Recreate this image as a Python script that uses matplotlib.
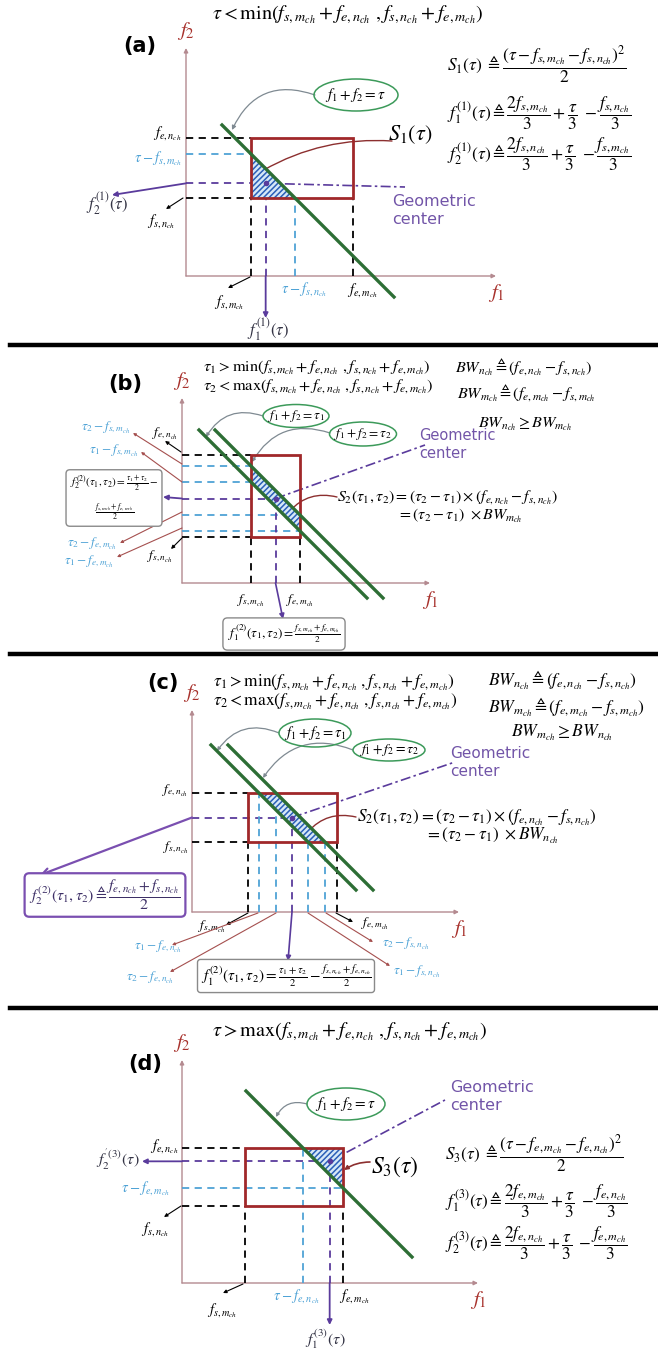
import matplotlib.pyplot as plt
from matplotlib.patches import Ellipse, Polygon, Rectangle

plt.rcParams['mathtext.fontset'] = 'stix'
plt.rcParams['font.family'] = ['DejaVu Sans']
plt.rcParams['hatch.linewidth'] = 1.1

AX_C = '#b48a90'
LAB_C = '#a8322d'
RECT_C = '#a0282a'
GREEN = '#2d6e35'
CYAN = '#4fa3d6'
PURPLE = '#5a3b9c'
GC_C = '#7255a8'
GRAY = '#7f8a92'
BROWN = '#a5504f'
HATCH_C = '#2a5fb8'

# band edges per panel (a, b, c, d), in axis units (1 unit = 1 px)
origins = [(186, 276), (182, 583), (192, 912), (182, 1283)]
axis_len = [(310, 228), (248, 185), (267, 202), (296, 223)]
f_s_m = [65, 69, 56, 63]
f_e_m = [167, 118, 145, 161]
f_s_n = [78, 46, 70, 77]
f_e_n = [138, 128, 119, 135]
tau_a = 187
tau_b = [170, 186]
tau_c = [186, 203]
tau_d = 256
line_f2 = [(151, -21), (153, -15), (167, 22), (192, 26)]

fig = plt.figure(figsize=(6.58, 13.49), dpi=100)
ax = fig.add_axes([0, 0, 1, 1])
ax.set_xlim(0, 658)
ax.set_ylim(1349, 0)
ax.axis('off')


def px(p, f1, f2):
    ox, oy = origins[p]
    return ox + f1, oy - f2


def seg(p, a, b, color, ls='-', lw=1.3, z=3):
    (x0, y0), (x1, y1) = px(p, *a), px(p, *b)
    ax.plot([x0, x1], [y0, y1], color=color, ls=ls, lw=lw, zorder=z)


def arrow(a, b, color, lw=1.0, rad=0.0, ms=7, style='-|>'):
    ax.annotate('', xy=b, xytext=a,
                arrowprops=dict(arrowstyle=style, color=color, lw=lw, mutation_scale=ms,
                                shrinkA=0, shrinkB=0, connectionstyle=f'arc3,rad={rad}'))


def clip(poly, tau, below):
    out = []
    for i in range(len(poly)):
        a, b = poly[i], poly[(i + 1) % len(poly)]
        da, db = a[0] + a[1] - tau, b[0] + b[1] - tau
        ina = da <= 0 if below else da >= 0
        inb = db <= 0 if below else db >= 0
        if ina:
            out.append(a)
        if ina != inb:
            t = da / (da - db)
            out.append((a[0] + t * (b[0] - a[0]), a[1] + t * (b[1] - a[1])))
    return out


def base(p, taus, keep):
    ox, oy = origins[p]
    lx, ly = axis_len[p]
    arrow((ox, oy), (ox, oy - ly), AX_C, lw=1.0, ms=6)
    arrow((ox, oy), (ox + lx, oy), AX_C, lw=1.0, ms=6)
    ax.text(ox, oy - ly - 6, r'$f_2$', color=LAB_C, fontsize=15, ha='center', va='bottom')
    ax.text(ox + lx, oy + 6, r'$f_1$', color=LAB_C, fontsize=15, ha='center', va='top')
    x0, y0 = px(p, f_s_m[p], f_e_n[p])
    ax.add_patch(Rectangle((x0, y0), f_e_m[p] - f_s_m[p], f_e_n[p] - f_s_n[p], fill=False,
                           edgecolor=RECT_C, lw=2.0, zorder=6))
    poly = [(f_s_m[p], f_s_n[p]), (f_e_m[p], f_s_n[p]), (f_e_m[p], f_e_n[p]), (f_s_m[p], f_e_n[p])]
    for t, b in zip(taus, keep):
        poly = clip(poly, t, b)
    ax.add_patch(Polygon([px(p, *v) for v in poly], facecolor='#d6e8f7', edgecolor=HATCH_C,
                         hatch='//////', lw=0, zorder=4))
    top, bot = line_f2[p]
    for t in taus:
        seg(p, (t - top, top), (t - bot, bot), GREEN, lw=2.4, z=7)


def oval(c, w, h, txt, fs=9):
    ax.add_patch(Ellipse(c, w, h, fill=False, edgecolor='#3c9a5a', lw=1.1, zorder=5))
    ax.text(c[0], c[1], txt, fontsize=fs, ha='center', va='center', zorder=6)


def gcenter(xy, fs=10.5):
    ax.text(xy[0], xy[1], 'Geometric\ncenter', color=GC_C, fontsize=fs, ha='left', va='center',
            linespacing=1.25)


DASH = (0, (4, 3))
DDOT = (0, (6, 2, 1.5, 2))
BOXK = dict(boxstyle='round,pad=0.35', fc='white', ec='#8a8a8a', lw=1.0)
LF = 10.5  # small axis labels

# ---------------- (a) ----------------
p = 0
fsm, fem, fsn, fen, t = f_s_m[p], f_e_m[p], f_s_n[p], f_e_n[p], tau_a
base(p, [t], [True])
c1, c2 = (2 * fsm + t - fsn) / 3, (2 * fsn + t - fsm) / 3
seg(p, (0, fen), (fsm, fen), 'k', DASH)
seg(p, (0, fsn), (fsm, fsn), 'k', DASH)
seg(p, (0, t - fsm), (fsm, t - fsm), CYAN, DASH)
seg(p, (0, c2), (c1, c2), PURPLE, DASH)
seg(p, (fsm, 0), (fsm, fsn), 'k', DASH)
seg(p, (fem, 0), (fem, fsn), 'k', DASH)
seg(p, (t - fsn, 0), (t - fsn, fsn), CYAN, DASH)
seg(p, (c1, 0), (c1, c2), PURPLE, DASH)
cx, cy = px(p, c1, c2)
ax.plot(cx, cy, 'o', color=PURPLE, ms=3, zorder=8)
ax.plot([cx, 405], [cy, 187], color=PURPLE, ls=DDOT, lw=1.2, zorder=3)
arrow(px(p, c1, 0), (cx, 318), PURPLE, lw=1.3)
arrow(px(p, 0, c2), (112, 195), PURPLE, lw=1.3)
ax.text(212, 15, r'$\tau < \min(f_{s,m_{ch}} + f_{e,n_{ch}}\ ,f_{s,n_{ch}} + f_{e,m_{ch}})$',
        fontsize=14.5, ha='left', va='center')
ax.text(140, 46, '(a)', fontsize=15, fontweight='bold', ha='center', va='center')
ax.text(182, 133, r'$f_{e,n_{ch}}$', fontsize=LF, ha='right', va='center')
ax.text(182, 158, r'$\tau - f_{s,m_{ch}}$', fontsize=LF, ha='right', va='center', color=CYAN)
ax.text(161, 221, r'$f_{s,n_{ch}}$', fontsize=LF, ha='center', va='center')
arrow((183, 198), (166, 209), 'k', lw=0.8, ms=5)
ax.text(229, 302, r'$f_{s,m_{ch}}$', fontsize=LF, ha='center', va='center')
arrow((250, 277), (228, 288), 'k', lw=0.8, ms=5)
ax.text(281, 289, r'$\tau - f_{s,n_{ch}}$', fontsize=LF, ha='left', va='center', color=CYAN)
ax.text(362, 290, r'$f_{e,m_{ch}}$', fontsize=LF, ha='center', va='center')
ax.text(107, 204, r'$f_2^{(1)}(\tau)$', fontsize=12, ha='center', va='center', color='#333344')
ax.text(268, 330, r'$f_1^{(1)}(\tau)$', fontsize=12, ha='center', va='center', color='#333344')
oval((356, 95), 84, 32, r'$f_1 + f_2{=}\tau$', fs=11)
arrow((315, 95), (232, 130), GRAY, lw=0.9, rad=0.45, ms=6)
ax.text(388, 135, r'$S_1(\tau)$', fontsize=16, ha='left', va='center')
arrow((392, 141), (262, 171), '#8c2f2f', lw=1.0, rad=0.15, ms=6)
gcenter((392, 211), fs=11.5)
ax.text(447, 64, r'$S_1(\tau)\ \triangleq \dfrac{(\tau - f_{s,m_{ch}} - f_{s,n_{ch}})^2}{2}$',
        fontsize=12.5, ha='left', va='center')
ax.text(447, 113, r'$f_1^{(1)}(\tau) \triangleq \dfrac{2f_{s,m_{ch}}}{3} + \dfrac{\tau}{3}\ - \dfrac{f_{s,n_{ch}}}{3}$',
        fontsize=12.5, ha='left', va='center')
ax.text(447, 154, r'$f_2^{(1)}(\tau) \triangleq \dfrac{2f_{s,n_{ch}}}{3} + \dfrac{\tau}{3}\ - \dfrac{f_{s,m_{ch}}}{3}$',
        fontsize=12.5, ha='left', va='center')

for ysep in [345, 654, 1008]:
    ax.plot([10, 658], [ysep, ysep], color='k', lw=3.2)

# ---------------- (b) ----------------
p = 1
fsm, fem, fsn, fen = f_s_m[p], f_e_m[p], f_s_n[p], f_e_n[p]
t1, t2 = tau_b
base(p, [t1, t2], [False, True])
c1 = (fsm + fem) / 2
c2 = (t1 + t2) / 2 - c1
seg(p, (0, fen), (fsm, fen), 'k', DASH)
seg(p, (0, fsn), (fsm, fsn), 'k', DASH)
seg(p, (0, t2 - fsm), (fsm, t2 - fsm), CYAN, DASH)
seg(p, (0, t1 - fsm), (fsm, t1 - fsm), CYAN, DASH)
seg(p, (0, t2 - fem), (fem, t2 - fem), CYAN, DASH)
seg(p, (0, t1 - fem), (fem, t1 - fem), CYAN, DASH)
seg(p, (0, c2), (c1, c2), PURPLE, DASH)
seg(p, (fsm, 0), (fsm, fsn), 'k', DASH)
seg(p, (fem, 0), (fem, fsn), 'k', DASH)
seg(p, (c1, 0), (c1, c2), PURPLE, DASH)
cx, cy = px(p, c1, c2)
ax.plot(cx, cy, 'o', color=PURPLE, ms=3, zorder=8)
ax.plot([cx, 425], [cy, 445], color=PURPLE, ls=DDOT, lw=1.2, zorder=3)
arrow(px(p, c1, 0), (283, 619), PURPLE, lw=1.2)
arrow(px(p, 0, c2), (163, 497), PURPLE, lw=1.3)
ax.text(203, 367, r'$\tau_1 > \min(f_{s,m_{ch}} + f_{e,n_{ch}}\ ,f_{s,n_{ch}} + f_{e,m_{ch}})$',
        fontsize=11.8, ha='left', va='center')
ax.text(203, 386, r'$\tau_2 < \max(f_{s,m_{ch}} + f_{e,n_{ch}}\ ,f_{s,n_{ch}} + f_{e,m_{ch}})$',
        fontsize=11.8, ha='left', va='center')
ax.text(455, 367, r'$BW_{n_{ch}} \triangleq (f_{e,n_{ch}} - f_{s,n_{ch}})$', fontsize=11.6, ha='left', va='center')
ax.text(457, 393, r'$BW_{m_{ch}} \triangleq (f_{e,m_{ch}} - f_{s,m_{ch}}$', fontsize=11.6, ha='left', va='center')
ax.text(478, 424, r'$BW_{n_{ch}} \geq BW_{m_{ch}}$', fontsize=11.6, ha='left', va='center')
ax.text(125, 384, '(b)', fontsize=15, fontweight='bold', ha='center', va='center')
for lab, yy, a, b in [(r'$\tau_2 - f_{s,m_{ch}}$', 427, (182, 464), (133, 433)),
                      (r'$\tau_1 - f_{s,m_{ch}}$', 450, (182, 482), (141, 452)),
                      (r'$\tau_2 - f_{e,m_{ch}}$', 543, (182, 512), (120, 543)),
                      (r'$\tau_1 - f_{e,m_{ch}}$', 561, (182, 528), (117, 557))]:
    ax.text(b[0] - 3, yy, lab, fontsize=9.5, ha='right', va='center', color=CYAN)
    arrow(a, b, BROWN, lw=0.8, ms=4)
ax.text(165, 433, r'$f_{e,n_{ch}}$', fontsize=9.5, ha='center', va='center')
arrow((181, 452), (165, 441), 'k', lw=0.8, ms=5)
ax.text(160, 556, r'$f_{s,n_{ch}}$', fontsize=9.5, ha='center', va='center')
arrow((182, 538), (171, 549), 'k', lw=0.8, ms=5)
ax.text(251, 600, r'$f_{s,m_{ch}}$', fontsize=9.5, ha='center', va='center')
ax.text(300, 600, r'$f_{e,m_{ch}}$', fontsize=9.5, ha='center', va='center')
ax.text(114, 498, r'$f_2^{(2)}(\tau_1,\tau_2) = \frac{\tau_1+\tau_2}{2}-$' + '\n' +
        r'$\frac{f_{s,m_{ch}}+f_{e,m_{ch}}}{2}$', fontsize=8, ha='center', va='center',
        bbox=BOXK, linespacing=1.6)
ax.text(284, 634, r'$f_1^{(2)}(\tau_1,\tau_2) = \frac{f_{s,m_{ch}}+f_{e,m_{ch}}}{2}$', fontsize=9.5,
        ha='center', va='center', bbox=BOXK)
oval((296, 416), 66, 23, r'$f_1 + f_2{=}\tau_1$', fs=9.5)
oval((363, 434), 67, 24, r'$f_1 + f_2{=}\tau_2$', fs=9.5)
arrow((263, 416), (206, 437), GRAY, lw=0.9, rad=0.4, ms=5)
arrow((330, 433), (252, 462), GRAY, lw=0.9, rad=0.4, ms=5)
gcenter((419, 445))
ax.text(337, 497, r'$S_2(\tau_1,\tau_2) = (\tau_2 - \tau_1) \times (f_{e,n_{ch}} - f_{s,n_{ch}})$',
        fontsize=11.4, ha='left', va='center')
ax.text(397, 516, r'$= (\tau_2 - \tau_1)\ \times BW_{m_{ch}}$', fontsize=11.4, ha='left', va='center')
arrow((337, 497), (289, 512), '#8c2f2f', lw=1.0, rad=0.3, ms=5)

# ---------------- (c) ----------------
p = 2
fsm, fem, fsn, fen = f_s_m[p], f_e_m[p], f_s_n[p], f_e_n[p]
t1, t2 = tau_c
base(p, [t1, t2], [False, True])
c2 = (fen + fsn) / 2
c1 = (t1 + t2) / 2 - c2
seg(p, (0, fen), (fsm, fen), 'k', DASH)
seg(p, (0, fsn), (fsm, fsn), 'k', DASH)
seg(p, (0, c2), (c1, c2), PURPLE, DASH)
seg(p, (fsm, 0), (fsm, fsn), 'k', DASH)
seg(p, (fem, 0), (fem, fsn), 'k', DASH)
seg(p, (t1 - fen, 0), (t1 - fen, fen), CYAN, DASH)
seg(p, (t2 - fen, 0), (t2 - fen, fen), CYAN, DASH)
seg(p, (t1 - fsn, 0), (t1 - fsn, fsn), CYAN, DASH)
seg(p, (t2 - fsn, 0), (t2 - fsn, fsn), CYAN, DASH)
seg(p, (c1, 0), (c1, c2), PURPLE, DASH)
cx, cy = px(p, c1, c2)
ax.plot(cx, cy, 'o', color=PURPLE, ms=3, zorder=8)
ax.plot([cx, 455], [cy, 762], color=PURPLE, ls=DDOT, lw=1.2, zorder=3)
arrow(px(p, c1, 0), (288, 961), PURPLE, lw=1.2)
arrow(px(p, 0, c2), (40, 875), '#7a4fb0', lw=1.6, ms=12, style='->')
ax.text(213, 682, r'$\tau_1 > \min(f_{s,m_{ch}} + f_{e,n_{ch}}\ ,f_{s,n_{ch}} + f_{e,m_{ch}})$',
        fontsize=12.5, ha='left', va='center')
ax.text(213, 701, r'$\tau_2 < \max(f_{s,m_{ch}} + f_{e,n_{ch}}\ ,f_{s,n_{ch}} + f_{e,m_{ch}})$',
        fontsize=12.5, ha='left', va='center')
ax.text(488, 680, r'$BW_{n_{ch}} \triangleq (f_{e,n_{ch}} - f_{s,n_{ch}})$', fontsize=12.6, ha='left', va='center')
ax.text(488, 707, r'$BW_{m_{ch}} \triangleq (f_{e,m_{ch}} - f_{s,m_{ch}})$', fontsize=12.6, ha='left', va='center')
ax.text(511, 733, r'$BW_{m_{ch}} \geq BW_{n_{ch}}$', fontsize=12.6, ha='left', va='center')
ax.text(163, 683, '(c)', fontsize=15, fontweight='bold', ha='center', va='center')
ax.text(188, 790, r'$f_{e,n_{ch}}$', fontsize=9.5, ha='right', va='center')
ax.text(189, 847, r'$f_{s,n_{ch}}$', fontsize=9.5, ha='right', va='center')
ax.text(105, 895, r'$f_2^{(2)}(\tau_1,\tau_2) \triangleq \dfrac{f_{e,n_{ch}}+f_{s,n_{ch}}}{2}$', fontsize=11.3,
        ha='center', va='center', color='#3d2f66',
        bbox=dict(boxstyle='round,pad=0.3', fc='white', ec='#7a4fb0', lw=1.6))
ax.text(212, 926, r'$f_{s,m_{ch}}$', fontsize=9.5, ha='center', va='center')
arrow((248, 913), (226, 925), 'k', lw=0.8, ms=5)
ax.text(375, 923, r'$f_{e,m_{ch}}$', fontsize=9.5, ha='center', va='center')
arrow((336, 913), (353, 922), 'k', lw=0.8, ms=5)
for lab, pos, a, b in [(r'$\tau_1 - f_{e,n_{ch}}$', (158, 946), (258, 913), (172, 945)),
                       (r'$\tau_2 - f_{e,n_{ch}}$', (150, 977), (276, 913), (170, 972)),
                       (r'$\tau_2 - f_{s,n_{ch}}$', (406, 943), (326, 913), (373, 942)),
                       (r'$\tau_1 - f_{s,n_{ch}}$', (417, 971), (308, 913), (390, 966))]:
    ax.text(pos[0], pos[1], lab, fontsize=9.5, ha='center', va='center', color=CYAN)
    arrow(a, b, BROWN, lw=0.8, ms=4)
ax.text(286, 976, r'$f_1^{(2)}(\tau_1,\tau_2) = \frac{\tau_1+\tau_2}{2} - \frac{f_{s,n_{ch}}+f_{e,n_{ch}}}{2}$',
        fontsize=11, ha='center', va='center', bbox=dict(boxstyle='round,pad=0.2', fc='white',
                                                         ec='#8a8a8a', lw=1.0))
oval((315, 733), 72, 28, r'$f_1 + f_2{=}\tau_1$', fs=10.5)
oval((389, 750), 72, 22, r'$f_1 + f_2{=}\tau_2$', fs=10)
arrow((279, 733), (217, 751), GRAY, lw=0.9, rad=0.4, ms=5)
arrow((353, 750), (263, 778), GRAY, lw=0.9, rad=0.4, ms=5)
gcenter((450, 763), fs=11)
ax.text(357, 817, r'$S_2(\tau_1,\tau_2) = (\tau_2 - \tau_1) \times (f_{e,n_{ch}} - f_{s,n_{ch}})$',
        fontsize=12.4, ha='left', va='center')
ax.text(425, 836, r'$= (\tau_2 - \tau_1)\ \times BW_{n_{ch}}$', fontsize=12.4, ha='left', va='center')
arrow((356, 817), (307, 833), '#8c2f2f', lw=1.0, rad=0.3, ms=5)

# ---------------- (d) ----------------
p = 3
fsm, fem, fsn, fen, t = f_s_m[p], f_e_m[p], f_s_n[p], f_e_n[p], tau_d
base(p, [t], [False])
c1, c2 = (2 * fem + t - fen) / 3, (2 * fen + t - fem) / 3
seg(p, (0, fen), (fsm, fen), 'k', DASH)
seg(p, (0, fsn), (fsm, fsn), 'k', DASH)
seg(p, (0, t - fem), (fem, t - fem), CYAN, DASH)
seg(p, (0, c2), (c1, c2), PURPLE, DASH)
seg(p, (fsm, 0), (fsm, fsn), 'k', DASH)
seg(p, (fem, 0), (fem, fsn), 'k', DASH)
seg(p, (t - fen, 0), (t - fen, fen), CYAN, DASH)
seg(p, (c1, 0), (c1, c2), PURPLE, DASH)
cx, cy = px(p, c1, c2)
ax.plot(cx, cy, 'o', color=PURPLE, ms=3, zorder=8)
ax.plot([cx, 445], [cy, 1100], color=PURPLE, ls=DDOT, lw=1.2, zorder=3)
arrow(px(p, c1, 0), (cx, 1325), PURPLE, lw=1.3)
arrow(px(p, 0, c2), (142, cy), PURPLE, lw=1.3)
ax.text(212, 1032, r'$\tau > \max(f_{s,m_{ch}} + f_{e,n_{ch}}\ ,f_{s,n_{ch}} + f_{e,m_{ch}})$',
        fontsize=14.5, ha='left', va='center')
ax.text(145, 1064, '(d)', fontsize=15, fontweight='bold', ha='center', va='center')
ax.text(179, 1146, r'$f_{e,n_{ch}}$', fontsize=LF, ha='right', va='center')
ax.text(170, 1188, r'$\tau - f_{e,m_{ch}}$', fontsize=LF, ha='right', va='center', color=CYAN)
ax.text(155, 1229, r'$f_{s,n_{ch}}$', fontsize=LF, ha='center', va='center')
arrow((181, 1206), (164, 1217), 'k', lw=0.8, ms=5)
ax.text(118, 1160, r"$f_2^{'(3)}(\tau)$", fontsize=11.5, ha='center', va='center', color='#333344')
ax.text(222, 1310, r'$f_{s,m_{ch}}$', fontsize=LF, ha='center', va='center')
arrow((243, 1284), (223, 1293), 'k', lw=0.8, ms=5)
ax.text(296, 1296, r'$\tau - f_{e,n_{ch}}$', fontsize=LF, ha='center', va='center', color=CYAN)
ax.text(354, 1296, r'$f_{e,m_{ch}}$', fontsize=LF, ha='center', va='center')
ax.text(325, 1339, r'$f_1^{(3)}(\tau)$', fontsize=11.5, ha='center', va='center', color='#333344')
oval((346, 1104), 78, 32, r'$f_1 + f_2{=}\tau$', fs=11)
arrow((307, 1104), (276, 1117), GRAY, lw=0.9, rad=0.4, ms=5)
gcenter((450, 1097), fs=11.5)
ax.text(371, 1167, r'$S_3(\tau)$', fontsize=17, ha='left', va='center')
arrow((370, 1162), (344, 1170), '#8c2f2f', lw=1.2, rad=0.15, ms=6)
ax.text(445, 1153, r'$S_3(\tau)\ \triangleq \dfrac{(\tau - f_{e,m_{ch}} - f_{e,n_{ch}})^2}{2}$',
        fontsize=12.3, ha='left', va='center')
ax.text(445, 1201, r'$f_1^{(3)}(\tau) \triangleq \dfrac{2f_{e,m_{ch}}}{3} + \dfrac{\tau}{3}\ - \dfrac{f_{e,n_{ch}}}{3}$',
        fontsize=12.3, ha='left', va='center')
ax.text(445, 1243, r'$f_2^{(3)}(\tau) \triangleq \dfrac{2f_{e,n_{ch}}}{3} + \dfrac{\tau}{3}\ - \dfrac{f_{e,m_{ch}}}{3}$',
        fontsize=12.3, ha='left', va='center')

fig.savefig('out.png', dpi=100)
